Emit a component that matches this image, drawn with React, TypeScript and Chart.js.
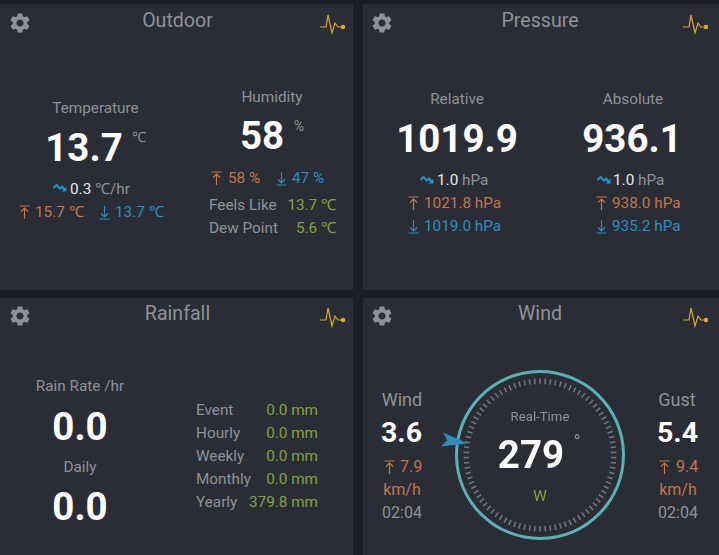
import { useEffect, useRef } from 'react';
import { Chart, ArcElement, DoughnutController } from 'chart.js';
import type { CSSProperties, ReactNode } from 'react';

Chart.register(ArcElement, DoughnutController);

// outdoor
const temperature = ['13.7', '0.3', '15.7', '13.7'];
const humidity = ['58', '58', '47'];
const feelsLike = ['13.7', '5.6'];
// pressure
const relativePressure = ['1019.9', '1.0', '1021.8', '1019.0'];
const absolutePressure = ['936.1', '1.0', '938.0', '935.2'];
// rainfall
const rainNow = ['0.0', '0.0'];
const rainLabels = ['Event', 'Hourly', 'Weekly', 'Monthly', 'Yearly'];
const rainValues = ['0.0', '0.0', '0.0', '0.0', '379.8'];
const rainRows = [410, 433, 456, 479, 502];
// wind
const windDirection = 279;
const windSpeed = ['3.6', '7.9', '02:04'];
const gustSpeed = ['5.4', '9.4', '02:04'];

// compass dial: one tick and one gap per 4 degrees
const dialCircle = [360];
const dialTicks = Array.from({ length: 180 }, (_, i) => (i % 2 === 0 ? 1.2 : 2.8));

const PAGE = '#1b1e25';
const PANEL = '#2a2d35';
const GREY = '#8f9297';
const ORANGE = '#c4754a';
const BLUE = '#2b90c0';
const GREEN = '#86a13d';
const GOLD = '#d8a92e';
const TEAL = '#5bb0b8';
const FONT = 'Roboto, sans-serif';

type TextProps = {
  x: number;
  y: number;
  size?: number;
  color?: string;
  bold?: boolean;
  align?: 'left' | 'center' | 'right';
  children: ReactNode;
};

const T = ({ x, y, size = 15.3, color = GREY, bold = false, align = 'center', children }: TextProps) => {
  const shift = align === 'center' ? '-50%' : align === 'right' ? '-100%' : '0';
  // even line height so the half-height lands on a whole pixel
  const line = Math.ceil(size / 2) * 2;
  const style: CSSProperties = {
    position: 'absolute',
    left: x,
    top: y - line / 2,
    transform: `translateX(${shift})`,
    fontFamily: FONT,
    fontSize: size,
    fontWeight: bold ? 700 : 400,
    color,
    lineHeight: `${line}px`,
    whiteSpace: 'pre',
  };
  return <div style={style}>{children}</div>;
};

const Big = ({ x, y, children }: { x: number; y: number; children: ReactNode }) => (
  <T x={x} y={y} size={38.5} color="#ffffff" bold>
    {children}
  </T>
);

const svgAt = (x: number, y: number): CSSProperties => ({ position: 'absolute', left: x, top: y });

const UpIcon = ({ x, y }: { x: number; y: number }) => (
  <svg style={svgAt(x, y - 7)} width="11" height="15" viewBox="0 0 11 15" fill="none" stroke={ORANGE} strokeWidth="1.2">
    <path d="M0.5 1h10M5.5 14V3M2 6.5L5.5 3L9 6.5" />
  </svg>
);

const DownIcon = ({ x, y }: { x: number; y: number }) => (
  <svg style={svgAt(x, y - 7)} width="11" height="15" viewBox="0 0 11 15" fill="none" stroke={BLUE} strokeWidth="1.2">
    <path d="M0.5 14h10M5.5 1V12M2 8.5L5.5 12L9 8.5" />
  </svg>
);

const TrendIcon = ({ x, y }: { x: number; y: number }) => (
  <svg style={svgAt(x, y - 5)} width="14" height="10" viewBox="0 0 14 10" fill="none" stroke={BLUE} strokeWidth="2">
    <path d="M0.5 5L3.5 2L7 5.5L9 3.5L12 7" />
    <path d="M13.5 3.5V8.5H8.5" fill={BLUE} stroke="none" />
  </svg>
);

const Gear = ({ x, y }: { x: number; y: number }) => (
  <svg style={svgAt(x - 12, y - 12)} width="24" height="24" viewBox="0 0 24 24" fill={GREY}>
    <path d="M19.14 12.94c.04-.3.06-.61.06-.94 0-.32-.02-.64-.07-.94l2.03-1.58c.18-.14.23-.41.12-.61l-1.92-3.32c-.12-.22-.37-.29-.59-.22l-2.39.96c-.5-.38-1.03-.7-1.62-.94l-.36-2.54c-.04-.24-.24-.41-.48-.41h-3.84c-.24 0-.43.17-.47.41l-.36 2.54c-.59.24-1.13.57-1.62.94l-2.39-.96c-.22-.08-.47 0-.59.22L2.74 8.87c-.12.21-.08.47.12.61l2.03 1.58c-.05.3-.09.63-.09.94s.02.64.07.94l-2.03 1.58c-.18.14-.23.41-.12.61l1.92 3.32c.12.22.37.29.59.22l2.39-.96c.5.38 1.03.7 1.62.94l.36 2.54c.05.24.24.41.48.41h3.84c.24 0 .44-.17.47-.41l.36-2.54c.59-.24 1.13-.56 1.62-.94l2.39.96c.22.08.47 0 .59-.22l1.92-3.32c.12-.22.07-.47-.12-.61l-2.01-1.58zM12 15.6c-1.98 0-3.6-1.62-3.6-3.6s1.62-3.6 3.6-3.6 3.6 1.62 3.6 3.6-1.62 3.6-3.6 3.6z" />
  </svg>
);

const Pulse = ({ x, y }: { x: number; y: number }) => (
  <svg style={svgAt(x, y)} width="25" height="22" viewBox="0 0 25 22" fill="none" stroke={GOLD} strokeWidth="1.2">
    <path d="M0 14H6L8 2L12 20L15 10L18 14H23" />
    <circle cx="23" cy="14" r="1.6" fill={GOLD} />
  </svg>
);

const Panel = ({ left, top, width, height, title, titleY }: { left: number; top: number; width: number; height: number; title: string; titleY: number }) => (
  <>
    <div style={{ position: 'absolute', left, top, width, height, background: PANEL }} />
    <T x={left + width / 2 + (left ? -1 : 1)} y={titleY + 1} size={19.6}>
      {title}
    </T>
    <Gear x={left + 20 - (left ? 1 : 0)} y={titleY + 3} />
    <Pulse x={left + width - (left ? 36 : 33)} y={titleY - 7} />
  </>
);

// arrow on the dial, turned to the wind direction
const pointerPlugin = {
  id: 'windPointer',
  afterDatasetsDraw(chart: Chart) {
    const arc: any = chart.getDatasetMeta(0).data[0];
    const { ctx } = chart;
    const r = arc.outerRadius;
    ctx.save();
    ctx.translate(arc.x, arc.y);
    ctx.rotate((windDirection * Math.PI) / 180);
    ctx.fillStyle = '#2f8dbb';
    ctx.beginPath();
    ctx.moveTo(0, -(r - 12));
    ctx.lineTo(-7, -(r + 14));
    ctx.lineTo(0, -(r + 9));
    ctx.lineTo(7, -(r + 14));
    ctx.closePath();
    ctx.fill();
    ctx.restore();
  },
};

const WindDial = () => {
  const canvasRef = useRef<HTMLCanvasElement>(null);

  useEffect(() => {
    if (!canvasRef.current) return;
    const chart = new Chart(canvasRef.current, {
      type: 'doughnut',
      data: {
        datasets: [
          { data: dialCircle, backgroundColor: TEAL, borderWidth: 0, weight: 3 },
          { data: dialCircle, backgroundColor: 'transparent', borderWidth: 0, weight: 5.5 },
          {
            data: dialTicks,
            backgroundColor: dialTicks.map((_, i) => (i % 2 === 0 ? '#74777c' : 'transparent')),
            borderWidth: 0,
            weight: 5.5,
          },
        ],
      },
      options: {
        responsive: false,
        animation: false,
        radius: 85,
        cutout: '83.5%',
        rotation: -0.6,
        layout: { padding: 0 },
        plugins: { legend: { display: false }, tooltip: { enabled: false } },
      },
      plugins: [pointerPlugin],
    });
    return () => chart.destroy();
  }, []);

  return (
    <canvas
      ref={canvasRef}
      width={220}
      height={220}
      style={{ position: 'absolute', left: 430, top: 345, width: 220, height: 220 }}
    />
  );
};

const App = () => (
  <div style={{ position: 'absolute', left: 0, top: 0, width: 719, height: 555, overflow: 'hidden', background: PAGE }}>
    <style>{`body{margin:0;background:${PAGE}}`}</style>

    <Panel left={0} top={4} width={353} height={286} title="Outdoor" titleY={20} />
    <Panel left={363} top={4} width={356} height={286} title="Pressure" titleY={20} />
    <Panel left={0} top={298} width={353} height={257} title="Rainfall" titleY={313} />
    <Panel left={363} top={298} width={356} height={257} title="Wind" titleY={313} />

    {/* Outdoor */}
    <T x={95.5} y={108}>Temperature</T>
    <Big x={84} y={148}>{temperature[0]}</Big>
    <T x={139} y={137} size={14}>℃</T>
    <TrendIcon x={53} y={188} />
    <T x={70} y={189} align="left">
      <span style={{ color: '#e8e8e8' }}>{temperature[1]}</span> ℃/hr
    </T>
    <UpIcon x={19} y={212} />
    <T x={35} y={212} align="left" color={ORANGE}>{temperature[2]} ℃</T>
    <DownIcon x={99} y={212} />
    <T x={115} y={212} align="left" color={BLUE}>{temperature[3]} ℃</T>

    <T x={272} y={97}>Humidity</T>
    <Big x={262} y={136}>{humidity[0]}</Big>
    <T x={299} y={126} size={14}>%</T>
    <UpIcon x={211} y={178} />
    <T x={228} y={178} align="left" color={ORANGE}>{humidity[1]} %</T>
    <DownIcon x={276} y={178} />
    <T x={292} y={178} align="left" color={BLUE}>{humidity[2]} %</T>
    <T x={209} y={205} align="left">Feels Like</T>
    <T x={336} y={205} align="right" color={GREEN}>{feelsLike[0]} ℃</T>
    <T x={209} y={228} align="left">Dew Point</T>
    <T x={336} y={228} align="right" color={GREEN}>{feelsLike[1]} ℃</T>

    {/* Pressure */}
    <T x={457} y={99}>Relative</T>
    <Big x={457} y={139}>{relativePressure[0]}</Big>
    <TrendIcon x={420} y={180} />
    <T x={437} y={180} align="left">
      <span style={{ color: '#e8e8e8' }}>{relativePressure[1]}</span> hPa
    </T>
    <UpIcon x={408} y={203} />
    <T x={424} y={203} align="left" color={ORANGE}>{relativePressure[2]} hPa</T>
    <DownIcon x={408} y={226} />
    <T x={424} y={226} align="left" color={BLUE}>{relativePressure[3]} hPa</T>

    <T x={633} y={99}>Absolute</T>
    <Big x={632} y={139}>{absolutePressure[0]}</Big>
    <TrendIcon x={597} y={180} />
    <T x={613} y={180} align="left">
      <span style={{ color: '#e8e8e8' }}>{absolutePressure[1]}</span> hPa
    </T>
    <UpIcon x={596} y={203} />
    <T x={612} y={203} align="left" color={ORANGE}>{absolutePressure[2]} hPa</T>
    <DownIcon x={596} y={226} />
    <T x={612} y={226} align="left" color={BLUE}>{absolutePressure[3]} hPa</T>

    {/* Rainfall */}
    <T x={80} y={386}>Rain Rate /hr</T>
    <Big x={80} y={427}>{rainNow[0]}</Big>
    <T x={80} y={467}>Daily</T>
    <Big x={80} y={507}>{rainNow[1]}</Big>
    {rainLabels.map((label, i) => (
      <T key={label} x={196} y={rainRows[i]} align="left">{label}</T>
    ))}
    {rainValues.map((value, i) => (
      <T key={rainLabels[i]} x={318} y={rainRows[i]} align="right" color={GREEN}>{value} mm</T>
    ))}

    {/* Wind */}
    <T x={402} y={400} size={18}>Wind</T>
    <T x={401.5} y={433} size={28.5} color="#ffffff" bold>{windSpeed[0]}</T>
    <UpIcon x={384} y={467} />
    <T x={400} y={467} align="left" size={16} color={ORANGE}>{windSpeed[1]}</T>
    <T x={402} y={490} size={16} color={ORANGE}>km/h</T>
    <T x={402} y={513} size={16}>{windSpeed[2]}</T>

    <T x={677} y={400} size={18}>Gust</T>
    <T x={677.5} y={433} size={28.5} color="#ffffff" bold>{gustSpeed[0]}</T>
    <UpIcon x={659} y={467} />
    <T x={676} y={467} align="left" size={16} color={ORANGE}>{gustSpeed[1]}</T>
    <T x={678} y={490} size={16} color={ORANGE}>km/h</T>
    <T x={678} y={513} size={16}>{gustSpeed[2]}</T>

    <WindDial />
    <T x={540} y={417} size={13.2}>Real-Time</T>
    <Big x={531} y={455}>{windDirection}</Big>
    <T x={577} y={442} size={19}>°</T>
    <T x={540} y={496} color={GREEN}>W</T>
  </div>
);

export default App;
